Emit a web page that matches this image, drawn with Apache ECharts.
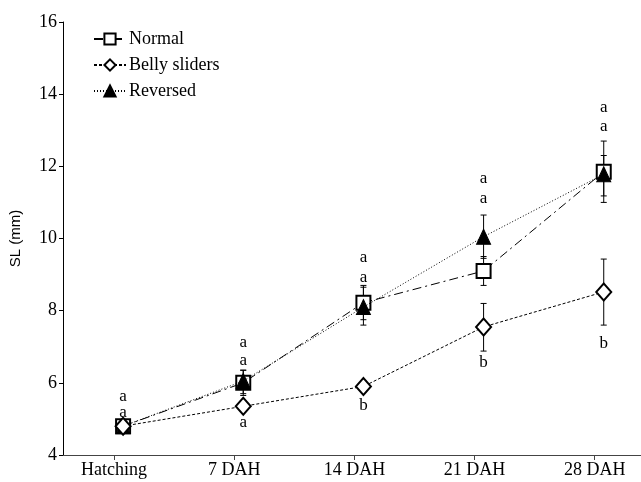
<!DOCTYPE html>
<html><head><meta charset="utf-8">
<script src="https://cdn.jsdelivr.net/npm/echarts@6/dist/echarts.min.js"></script>
<style>html,body{margin:0;padding:0;background:#fff}#c{width:641px;height:482px}</style>
</head><body><div id="c"></div>
<script>
var categories = ['Hatching', '7 DAH', '14 DAH', '21 DAH', '28 DAH'];
var yTicks = [4, 6, 8, 10, 12, 14, 16];
var normal = [4.8, 6.0, 8.22, 9.1, 11.85];
var normalLo = [4.7, 5.65, 7.75, 8.7, 11.0];
var normalHi = [4.9, 6.35, 8.65, 9.5, 12.7];
var belly = [4.8, 5.35, 5.9, 7.55, 8.52];
var bellyLo = [4.7, 5.2, 5.75, 6.88, 7.6];
var bellyHi = [4.9, 5.5, 6.05, 8.2, 9.43];
var reversed = [4.8, 6.05, 8.1, 10.05, 11.78];
var reversedLo = [4.7, 5.7, 7.6, 9.45, 11.18];
var reversedHi = [4.9, 6.35, 8.7, 10.65, 12.3];
// significance letters: [category index, y value, letter]
var letters = [
  [0, 5.61, 'a'], [0, 5.19, 'a'],
  [1, 7.13, 'a'], [1, 6.61, 'a'], [1, 4.91, 'a'],
  [2, 9.46, 'a'], [2, 8.93, 'a'], [2, 5.36, 'b'],
  [3, 11.65, 'a'], [3, 11.12, 'a'], [3, 6.55, 'b'],
  [4, 13.62, 'a'], [4, 13.09, 'a'], [4, 7.10, 'b']
];

var tickShift = -0.075;
var serif = '"Liberation Serif","Times New Roman",serif';
function pts(arr){ return arr.map(function(v,i){ return [i, v]; }); }
function errs(lo, hi){ return lo.map(function(v,i){ return [i, v, hi[i]]; }); }
function errSeries(lo, hi, z){
  return {
    type: 'custom', z: z, silent: true,
    data: errs(lo, hi),
    encode: {x: 0, y: [1, 2]},
    renderItem: function(params, api){
      var x = api.value(0);
      var p1 = api.coord([x, api.value(1)]);
      var p2 = api.coord([x, api.value(2)]);
      var h = 3;
      var st = {stroke: '#000', lineWidth: 1};
      return {type: 'group', children: [
        {type: 'line', shape: {x1: p1[0], y1: p1[1], x2: p2[0], y2: p2[1]}, style: st},
        {type: 'line', shape: {x1: p1[0]-h, y1: p1[1], x2: p1[0]+h, y2: p1[1]}, style: st},
        {type: 'line', shape: {x1: p2[0]-h, y1: p2[1], x2: p2[0]+h, y2: p2[1]}, style: st}
      ]};
    }
  };
}
var chart = echarts.init(document.getElementById('c'));
chart.setOption({
  animation: false,
  backgroundColor: '#fff',
  grid: {left: 62, right: 0, top: 22, bottom: 27},
  legend: {
    orient: 'vertical', left: 88, top: 25,
    itemWidth: 32, itemHeight: 14, itemGap: 8,
    data: ['Normal', 'Belly sliders', 'Reversed'],
    textStyle: {fontFamily: serif, fontSize: 18, color: '#000', padding: [0,0,0,-2]}
  },
  xAxis: {
    type: 'value', min: -0.5, max: 4.31,
    splitLine: {show: false},
    axisLine: {show: true, onZero: false, lineStyle: {color: '#444', width: 1}},
    axisTick: {show: true, length: 5, lineStyle: {color: '#444'},
      customValues: categories.map(function(c,i){ return i + tickShift; })},
    axisLabel: {
      customValues: categories.map(function(c,i){ return i + tickShift; }),
      formatter: function(v){ return categories[Math.round(v)]; },
      fontFamily: serif, fontSize: 18, color: '#000', margin: 6
    }
  },
  yAxis: {
    type: 'value', min: 4, max: 16, interval: 2,
    name: 'SL (mm)', nameLocation: 'middle', nameGap: 40,
    nameTextStyle: {fontFamily: '"Liberation Sans",Arial,sans-serif', fontSize: 15, color: '#000'},
    splitLine: {show: false},
    axisLine: {show: true, onZero: false, lineStyle: {color: '#000', width: 1}},
    axisTick: {show: true, length: 4, lineStyle: {color: '#000'}},
    axisLabel: {fontFamily: serif, fontSize: 18, color: '#000', margin: 6,
      formatter: function(v){ return yTicks.indexOf(v) >= 0 ? String(v) : ''; }}
  },
  series: [
    errSeries(normalLo, normalHi, 1),
    errSeries(reversedLo, reversedHi, 1),
    errSeries(bellyLo, bellyHi, 1),
    {
      name: 'Normal', type: 'line', z: 2, data: pts(normal),
      symbol: 'rect', symbolSize: 14,
      lineStyle: {color: '#000', width: 1, type: [9, 4, 2, 4]},
      itemStyle: {color: '#fff', borderColor: '#000', borderWidth: 2}
    },
    {
      name: 'Reversed', type: 'line', z: 3, data: pts(reversed),
      symbol: 'triangle', symbolSize: [14, 15],
      lineStyle: {color: '#000', width: 1, type: [1, 2]},
      itemStyle: {color: '#000', borderColor: '#000', borderWidth: 1}
    },
    {
      name: 'Belly sliders', type: 'line', z: 4, data: pts(belly),
      symbol: 'diamond', symbolSize: [15, 17],
      lineStyle: {color: '#000', width: 1, type: [3, 2]},
      itemStyle: {color: '#fff', borderColor: '#000', borderWidth: 2}
    },
    {
      type: 'custom', z: 5, silent: true,
      data: letters,
      encode: {x: 0, y: 1},
      renderItem: function(params, api){
        var p = api.coord([api.value(0), api.value(1)]);
        return {type: 'text', x: p[0], y: p[1],
          style: {text: letters[params.dataIndex][2], fill: '#000', font: '17px ' + serif,
            align: 'center', verticalAlign: 'middle'}};
      }
    }
  ]
});
</script></body></html>
